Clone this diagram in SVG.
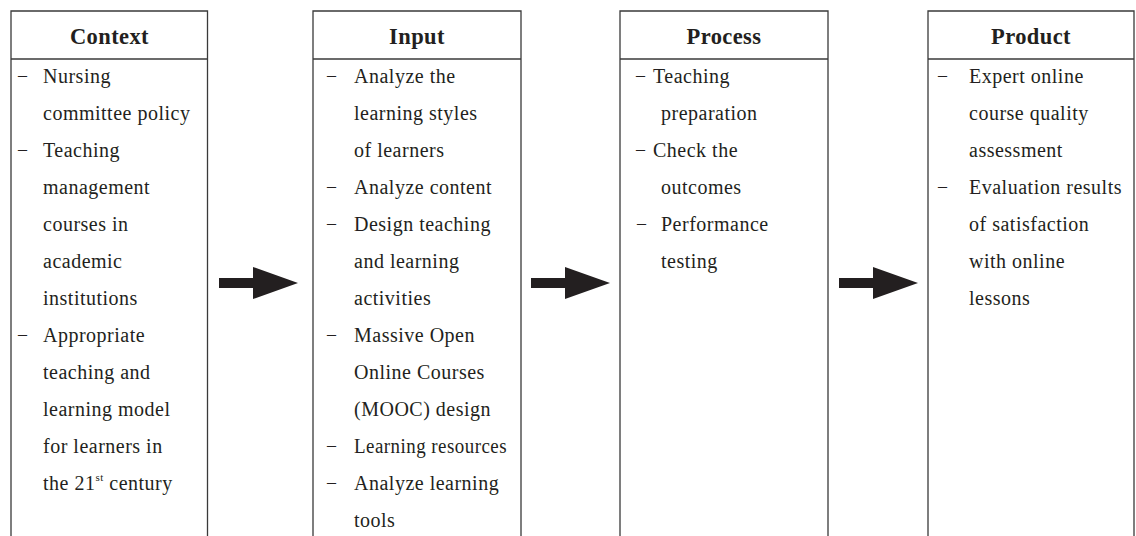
<svg xmlns="http://www.w3.org/2000/svg" width="1136" height="536" viewBox="0 0 1136 536">
  <style>
    .box { fill: #ffffff; stroke: #3a3a3a; stroke-width: 1.3; }
    .rule { stroke: #3a3a3a; stroke-width: 1.3; }
    .head { font-family: "Liberation Serif", "Times New Roman", serif; font-weight: bold; font-size: 22.5px; fill: #231f20; text-anchor: middle; letter-spacing: 0.4px; }
    .item { font-family: "Liberation Serif", "Times New Roman", serif; font-size: 20px; fill: #231f20; letter-spacing: 0.5px; }
    .dash { font-family: "Liberation Serif", "Times New Roman", serif; font-size: 18px; fill: #231f20; }
    .arrow { fill: #231f20; }
  </style>
  <rect width="1136" height="536" fill="#ffffff"/>

  <!-- Context column -->
  <g id="context">
    <path class="box" d="M11,560 V11 H207.5 V560"/>
    <line class="rule" x1="11" y1="59" x2="207.5" y2="59"/>
    <text class="head" x="109.5" y="44">Context</text>
    <text class="dash" x="18" y="81">–</text>
    <text class="item" x="43" y="83">Nursing</text>
    <text class="item" x="43" y="120">committee policy</text>
    <text class="dash" x="18" y="155">–</text>
    <text class="item" x="43" y="157">Teaching</text>
    <text class="item" x="43" y="194">management</text>
    <text class="item" x="43" y="231">courses in</text>
    <text class="item" x="43" y="268">academic</text>
    <text class="item" x="43" y="305">institutions</text>
    <text class="dash" x="18" y="340">–</text>
    <text class="item" x="43" y="342">Appropriate</text>
    <text class="item" x="43" y="379">teaching and</text>
    <text class="item" x="43" y="416">learning model</text>
    <text class="item" x="43" y="453">for learners in</text>
    <text class="item" x="43" y="490">the 21<tspan font-size="11" dy="-9">st</tspan><tspan dy="9"> century</tspan></text>
  </g>

  <!-- Input column -->
  <g id="input">
    <path class="box" d="M313,560 V11 H521 V560"/>
    <line class="rule" x1="313" y1="59" x2="521" y2="59"/>
    <text class="head" x="417" y="44">Input</text>
    <text class="dash" x="327" y="81">–</text>
    <text class="item" x="354" y="83">Analyze the</text>
    <text class="item" x="354" y="120">learning styles</text>
    <text class="item" x="354" y="157">of learners</text>
    <text class="dash" x="327" y="192">–</text>
    <text class="item" x="354" y="194">Analyze content</text>
    <text class="dash" x="327" y="229">–</text>
    <text class="item" x="354" y="231">Design teaching</text>
    <text class="item" x="354" y="268">and learning</text>
    <text class="item" x="354" y="305">activities</text>
    <text class="dash" x="327" y="340">–</text>
    <text class="item" x="354" y="342">Massive Open</text>
    <text class="item" x="354" y="379">Online Courses</text>
    <text class="item" x="354" y="416">(MOOC) design</text>
    <text class="dash" x="327" y="451">–</text>
    <text class="item" x="354" y="453" letter-spacing="0" textLength="153" lengthAdjust="spacingAndGlyphs">Learning resources</text>
    <text class="dash" x="327" y="488">–</text>
    <text class="item" x="354" y="490">Analyze learning</text>
    <text class="item" x="354" y="527">tools</text>
  </g>

  <!-- Process column -->
  <g id="process">
    <path class="box" d="M620,560 V11 H828 V560"/>
    <line class="rule" x1="620" y1="59" x2="828" y2="59"/>
    <text class="head" x="724" y="44">Process</text>
    <text class="dash" x="636" y="81">–</text>
    <text class="item" x="653" y="83">Teaching</text>
    <text class="item" x="661" y="120">preparation</text>
    <text class="dash" x="636" y="155">–</text>
    <text class="item" x="653" y="157">Check the</text>
    <text class="item" x="661" y="194">outcomes</text>
    <text class="dash" x="637" y="229">–</text>
    <text class="item" x="661" y="231">Performance</text>
    <text class="item" x="661" y="268">testing</text>
  </g>

  <!-- Product column -->
  <g id="product">
    <path class="box" d="M928,560 V11 H1134 V560"/>
    <line class="rule" x1="928" y1="59" x2="1134" y2="59"/>
    <text class="head" x="1031" y="44">Product</text>
    <text class="dash" x="938" y="81">–</text>
    <text class="item" x="969" y="83">Expert online</text>
    <text class="item" x="969" y="120">course quality</text>
    <text class="item" x="969" y="157">assessment</text>
    <text class="dash" x="938" y="192">–</text>
    <text class="item" x="969" y="194" letter-spacing="0" textLength="153" lengthAdjust="spacingAndGlyphs">Evaluation results</text>
    <text class="item" x="969" y="231">of satisfaction</text>
    <text class="item" x="969" y="268">with online</text>
    <text class="item" x="969" y="305">lessons</text>
  </g>

  <!-- Block arrows between columns -->
  <g id="connectors">
    <defs>
      <polygon id="blockArrow" points="0,11 34,11 34,0 79,16 34,32 34,21 0,21"/>
    </defs>
    <use href="#blockArrow" class="arrow" x="219" y="267"/>
    <use href="#blockArrow" class="arrow" x="531" y="267"/>
    <use href="#blockArrow" class="arrow" x="839" y="267"/>
  </g>
</svg>
